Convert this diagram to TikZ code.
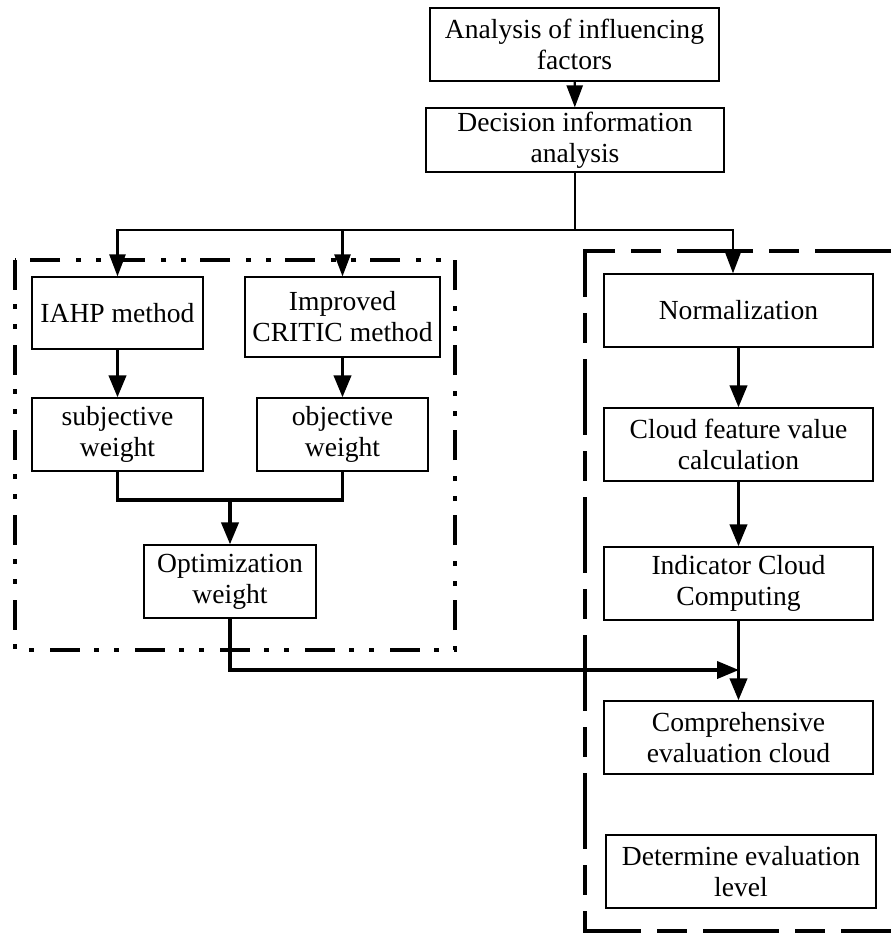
\documentclass[tikz,border=0pt]{standalone}
\usepackage{fontspec}
\setmainfont{Liberation Serif}
\usepackage{xcolor}
\usepackage{tikz}
\usetikzlibrary{arrows.meta,calc}
\definecolor{figline}{RGB}{0,0,0}
\tikzset{
  box/.style    ={draw=figline, line width=0.6pt, inner sep=0pt, align=center,
                  minimum height=36.5pt, font=\fontsize{13.8}{15.5}\selectfont},
  tln/.style    ={draw=figline, line width=1.2pt},
  tarr/.style   ={tln, -{Triangle[length=11pt,width=8pt]}},
  kln/.style    ={draw=figline, line width=1.9pt},
  karr/.style   ={kln, -{Triangle[length=11pt,width=8.5pt]}},
  ddframe/.style={draw=figline, line width=1.6pt,
                  dash pattern=on 15pt off 7pt on 2.5pt off 7.5pt on 2.5pt off 8pt},
  dframe/.style ={draw=figline, line width=1.6pt,
                  dash pattern=on 38pt off 8pt on 15pt off 8pt},
}

\begin{document}
\begin{tikzpicture}[x=0.5pt,y=-0.5pt]
  \useasboundingbox (0,0) rectangle (891,933);
  % frames
  \draw[ddframe] (15,260) rectangle (455,650);
  \draw[dframe] (891,251) -- (585,251) -- (585,931) -- (891,931);
  % boxes
  \node[box,minimum width=144.5pt] (fac) at (574.5,44.5) {Analysis of influencing\\factors};
  \node[box,minimum width=149pt,minimum height=32pt] (dec) at (575,140) {Decision information\\analysis};
  \node[box,minimum width=85.5pt,minimum height=36pt] (iahp) at (117.5,313) {IAHP method};
  \node[box,minimum width=97.5pt,minimum height=40pt] (critic) at (342.5,317) {Improved\\CRITIC method};
  \node[box,minimum width=85.5pt] (subj) at (117.5,434.5) {subjective\\weight};
  \node[box,minimum width=85.5pt] (obj) at (342.5,434.5) {objective\\weight};
  \node[box,minimum width=86pt] (opt) at (230,581.5) {Optimization\\weight};
  \node[box,minimum width=134.5pt] (norm) at (738.5,310.5) {Normalization};
  \node[box,minimum width=134.5pt] (feat) at (738.5,444.5) {Cloud feature value\\calculation};
  \node[box,minimum width=134.5pt] (ind) at (738.5,583.5) {Indicator Cloud\\Computing};
  \node[box,minimum width=134.5pt] (comp) at (738.5,737.5) {Comprehensive\\evaluation cloud};
  \node[box,minimum width=135pt] (det) at (741,871.5) {Determine evaluation\\level};
  % connectors
  \coordinate (split) at (575,230);
  \coordinate (rcorner) at (733,230);
  \coordinate (join) at (230,500);
  \coordinate (meet) at (739,670);
  \draw[tarr] (fac) -- (dec);
  \draw[tln] (dec.south) -- (split);
  \draw[tarr] (split) -| (iahp.north);
  \draw[tarr] (split) -| (critic.north);
  \draw[tarr] (split) -- (rcorner) -- (rcorner |- norm.north);
  \draw[karr] (iahp) -- (subj);
  \draw[karr] (critic) -- (obj);
  \draw[kln] (subj.south) |- (join) -| (obj.south);
  \draw[karr] (join) -- (opt.north);
  \draw[karr] (opt.south) |- (meet);
  \draw[karr] (norm) -- (feat);
  \draw[karr] (feat) -- (ind);
  \draw[karr] (ind) -- (comp);
\end{tikzpicture}
\end{document}
